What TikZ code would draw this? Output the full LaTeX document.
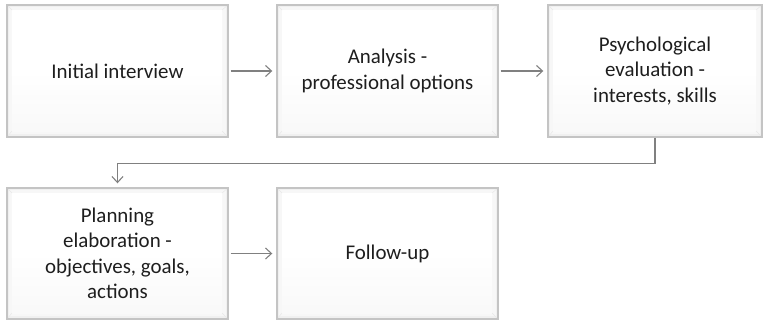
\documentclass[tikz,border=0pt]{standalone}
\usepackage{fontspec}
\setmainfont{Carlito}
\usetikzlibrary{arrows.meta}
\definecolor{boxedge}{RGB}{196,196,196}
\definecolor{bevel}{RGB}{232,232,232}
\definecolor{linkgray}{RGB}{128,128,128}
\definecolor{txt}{RGB}{30,30,30}
\tikzset{
  bevelbox/.style={
    draw=boxedge, line width=1.4bp, fill=gray!12,
    minimum height=132bp, align=center, text=txt,
    font=\fontsize{21}{25.5}\selectfont, inner sep=0pt,
    path picture={
      \coordinate (nw) at (path picture bounding box.north west);
      \coordinate (se) at (path picture bounding box.south east);
      \coordinate (ne) at (path picture bounding box.north east);
      \coordinate (sw) at (path picture bounding box.south west);
      \fill[gray!6] ([shift={(2bp,-2bp)}]nw) rectangle ([shift={(-2bp,3bp)}]se);
      \shade[top color=white, bottom color=gray!5, middle color=white]
        ([shift={(5bp,-5bp)}]nw) rectangle ([shift={(-6bp,6bp)}]se);
      \draw[bevel, line width=0.5bp]
        (nw) -- ([shift={(5bp,-5bp)}]nw)
        (ne) -- ([shift={(-6bp,-5bp)}]ne)
        (sw) -- ([shift={(5bp,6bp)}]sw)
        (se) -- ([shift={(-6bp,6bp)}]se);
    }},
  link/.style={draw=linkgray, line width=1.1bp,
    -{Straight Barb[length=6bp,width=11bp,line width=1.1bp]}}
}
\begin{document}
\begin{tikzpicture}[x=1bp,y=-1bp]
  \useasboundingbox (0,0) rectangle (763,322);
  \node[bevelbox, minimum width=221bp] (interview) at (117.5,71) {Initial interview};
  \node[bevelbox, minimum width=221bp] (analysis) at (387.5,71) {Analysis -\\professional options};
  \node[bevelbox, minimum width=214bp] (evaluation) at (655,71) {Psychological\\evaluation -\\interests, skills};
  \node[bevelbox, minimum width=221bp, minimum height=131bp] (planning) at (117.5,253.5) {Planning\\elaboration -\\objectives, goals,\\actions};
  \node[bevelbox, minimum width=221bp, minimum height=131bp] (followup) at (387.5,253.5) {Follow-up};

  \draw[link, shorten <=2bp, shorten >=4bp] (interview) -- (analysis);
  \draw[link, shorten <=2bp, shorten >=4bp] (analysis) -- (evaluation);
  \draw[link, shorten <=2bp, shorten >=4bp] (planning) -- (followup);
  \draw[link, shorten >=4bp] (evaluation.south) -- ++(0,26) -| (planning.north);
\end{tikzpicture}
\end{document}
